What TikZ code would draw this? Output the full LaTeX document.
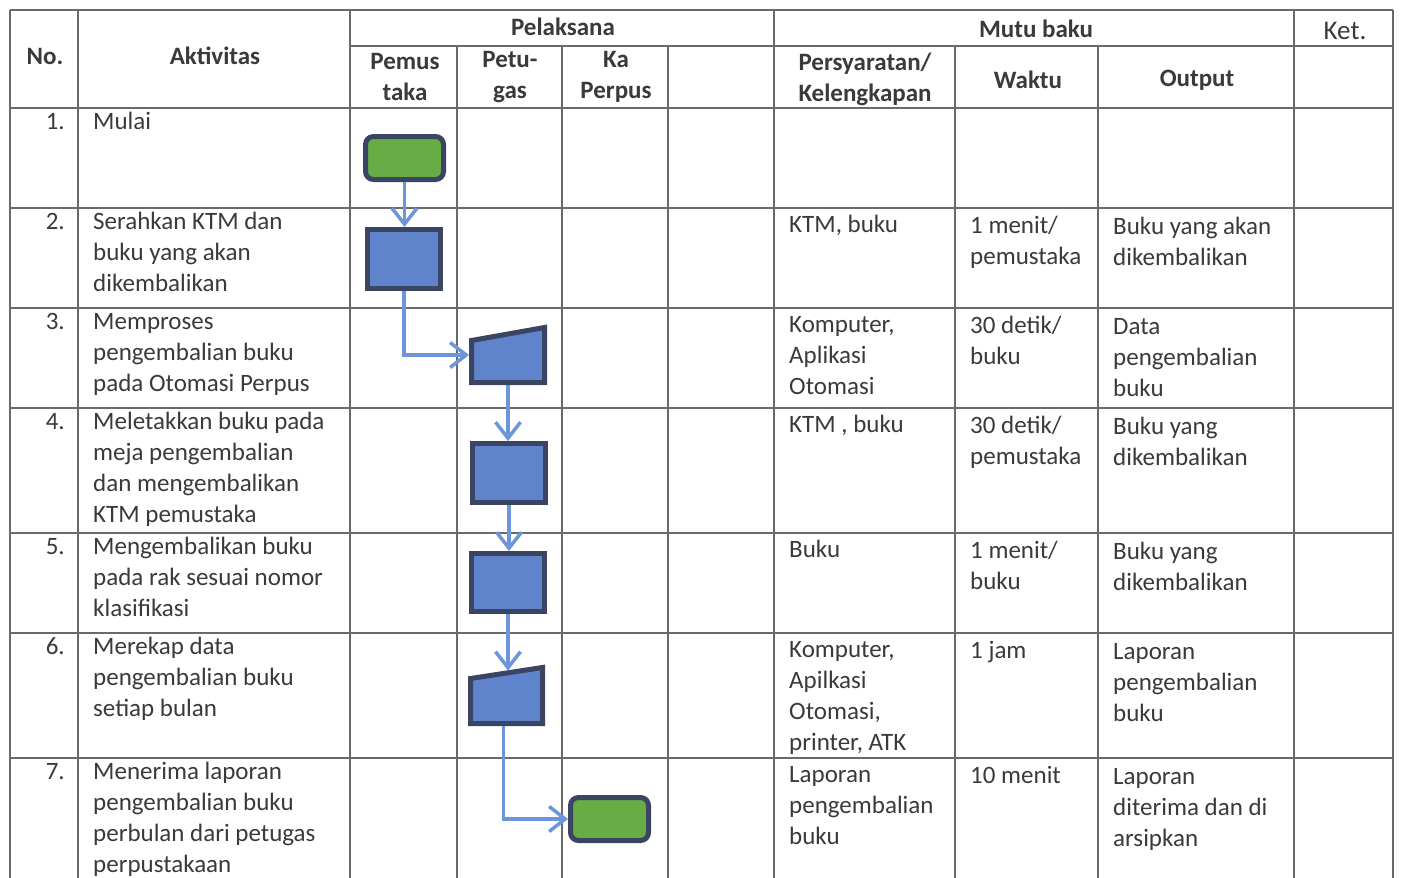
\documentclass[tikz,border=0pt]{standalone}
\usepackage{fontspec}
\setmainfont{Carlito}
\usetikzlibrary{arrows.meta,calc}
\definecolor{gridc}{HTML}{6A6A6A}
\definecolor{txt}{HTML}{3A3A3A}
\definecolor{bordc}{HTML}{3B4462}
\definecolor{bluef}{HTML}{6084CB}
\definecolor{greenf}{HTML}{68AC46}
\definecolor{arrc}{HTML}{6C95DA}
\begin{document}
\begin{tikzpicture}[x=1pt,y=-1pt,
 gridline/.style={draw=gridc,line width=1.3pt},
 cell/.style={anchor=north west,inner sep=0pt,align=left,text=txt,font=\fontsize{25}{31}\selectfont},
 num/.style={anchor=north east,inner sep=0pt,text=txt,font=\fontsize{25}{31}\selectfont},
 head/.style={anchor=center,inner sep=0pt,align=center,text=txt,font=\fontsize{25}{31}\selectfont\bfseries},
 proc/.style={draw=bordc,line width=5pt,fill=bluef,minimum width=73pt,minimum height=59pt,inner sep=0pt},
 term/.style={draw=bordc,line width=5pt,fill=greenf,rounded corners=8pt,minimum width=78pt,minimum height=43pt,inner sep=0pt},
 phantom/.style={inner sep=0pt,outer sep=0pt},
 manual/.style={draw=bordc,line width=5pt,fill=bluef,line join=miter},
 flow/.style={draw=arrc,line width=3.5pt,-{Straight Barb[length=16pt,width=25pt,line width=3.5pt]}},
]
\useasboundingbox (0,0) rectangle (1401,878);
\fill[white] (0,0) rectangle (1401,878);

% ---- grid ----
\foreach \x in {10,78,350,774,1294,1393} \draw[gridline] (\x,10) -- (\x,878);
\foreach \x in {457,562,668,955,1098} \draw[gridline] (\x,46) -- (\x,878);
\draw[gridline] (10,10) -- (1393,10);
\draw[gridline] (350,46) -- (1393,46);
\foreach \y in {108,208,308,408,533,633,758} \draw[gridline] (10,\y) -- (1393,\y);

% ---- header ----
\node[head] (hno) at (45,56) {No.};
\node[head] (hakt) at (215,56) {Aktivitas};
\node[head] (hpel) at (563,27) {Pelaksana};
\node[head] (hmutu) at (1036,29) {Mutu baku};
\node[head,font=\fontsize{27}{31}\selectfont] (hket) at (1345,31) {Ket.};
\node[head] (hpem) at (405,77) {Pemus\\taka};
\node[head] (hpet) at (510,77) {Petu-\\gas};
\node[head] (hka) at (616,77) {Ka\\Perpus};
\node[head] (hpers) at (865,79) {Persyaratan/\\Kelengkapan};
\node[head] (hwak) at (1028,80) {Waktu};
\node[head] (hout) at (1197,80) {Output};

% ---- numbers ----
\node[num] (n1) at (65,108) {\strut 1.};
\node[num] (n2) at (65,208) {\strut 2.};
\node[num] (n3) at (65,308) {\strut 3.};
\node[num] (n4) at (65,408) {\strut 4.};
\node[num] (n5) at (65,533) {\strut 5.};
\node[num] (n6) at (65,633) {\strut 6.};
\node[num] (n7) at (65,758) {\strut 7.};

% ---- aktivitas ----
\node[cell] (a1) at (93,108) {\strut Mulai};
\node[cell] (a2) at (93,208) {\strut Serahkan KTM dan\\buku yang akan\\dikembalikan};
\node[cell] (a3) at (93,308) {\strut Memproses\\pengembalian buku\\pada Otomasi Perpus};
\node[cell] (a4) at (93,408) {\strut Meletakkan buku pada\\meja pengembalian\\dan mengembalikan\\KTM pemustaka};
\node[cell] (a5) at (93,533) {\strut Mengembalikan buku\\pada rak sesuai nomor\\klasifikasi};
\node[cell] (a6) at (93,633) {\strut Merekap data\\pengembalian buku\\setiap bulan};
\node[cell] (a7) at (93,758) {\strut Menerima laporan\\pengembalian buku\\perbulan dari petugas\\perpustakaan};

% ---- persyaratan ----
\node[cell] (p2) at (789,211) {\strut KTM, buku};
\node[cell] (p3) at (789,311) {\strut Komputer,\\Aplikasi\\Otomasi};
\node[cell] (p4) at (789,411) {\strut KTM , buku};
\node[cell] (p5) at (789,536) {\strut Buku};
\node[cell] (p6) at (789,636) {\strut Komputer,\\Apilkasi\\Otomasi,\\printer, ATK};
\node[cell] (p7) at (789,761) {\strut Laporan\\pengembalian\\buku};

% ---- waktu ----
\node[cell] (w2) at (970,212) {\strut 1 menit/\\pemustaka};
\node[cell] (w3) at (970,312) {\strut 30 detik/\\buku};
\node[cell] (w4) at (970,412) {\strut 30 detik/\\pemustaka};
\node[cell] (w5) at (970,537) {\strut 1 menit/\\buku};
\node[cell] (w6) at (970,637) {\strut 1 jam};
\node[cell] (w7) at (970,762) {\strut 10 menit};

% ---- output ----
\node[cell] (o2) at (1113,213) {\strut Buku yang akan\\dikembalikan};
\node[cell] (o3) at (1113,313) {\strut Data\\pengembalian\\buku};
\node[cell] (o4) at (1113,413) {\strut Buku yang\\dikembalikan};
\node[cell] (o5) at (1113,538) {\strut Buku yang\\dikembalikan};
\node[cell] (o6) at (1113,638) {\strut Laporan\\pengembalian\\buku};
\node[cell] (o7) at (1113,763) {\strut Laporan\\diterima dan di\\arsipkan};

% ---- flow shapes ----
\node[term] (s1) at (404.5,158) {};
\node[proc] (b2) at (404,259) {};
\node[phantom,minimum width=73pt,minimum height=42pt] (m3) at (508,361.5) {};
\draw[manual] (m3.south west) -- (m3.south east) -- ([yshift=13pt]m3.north east) -- (m3.north west) -- cycle;
\node[proc] (b4) at (509,473) {};
\node[proc,minimum height=58pt] (b5) at (508,582.5) {};
\node[phantom,minimum width=72pt,minimum height=45pt] (m6) at (506.5,701) {};
\draw[manual] (m6.south west) -- (m6.south east) -- ([yshift=11pt]m6.north east) -- (m6.north west) -- cycle;
\node[term] (e7) at (609.5,819) {};

\coordinate (m3in) at ([xshift=-2.5pt,yshift=6.5pt]m3.west);
\coordinate (m3out) at ([yshift=-2.5pt]m3.south);
\coordinate (m6top) at ([yshift=8pt]m6.north);
\coordinate (m6out) at ([xshift=-3pt,yshift=-2.5pt]m6.south);

% ---- connectors ----
\draw[flow] (s1.south) -- (s1.south |- b2.north);
\draw[flow] (b2.south) |- (m3in);
\draw[flow] (m3out) -- (m3out |- b4.north);
\draw[flow] (b4.south) -- (b4.south |- b5.north);
\draw[flow] (b5.south) -- (b5.south |- m6top);
\draw[flow] (m6out) |- (e7.west);
\end{tikzpicture}
\end{document}
